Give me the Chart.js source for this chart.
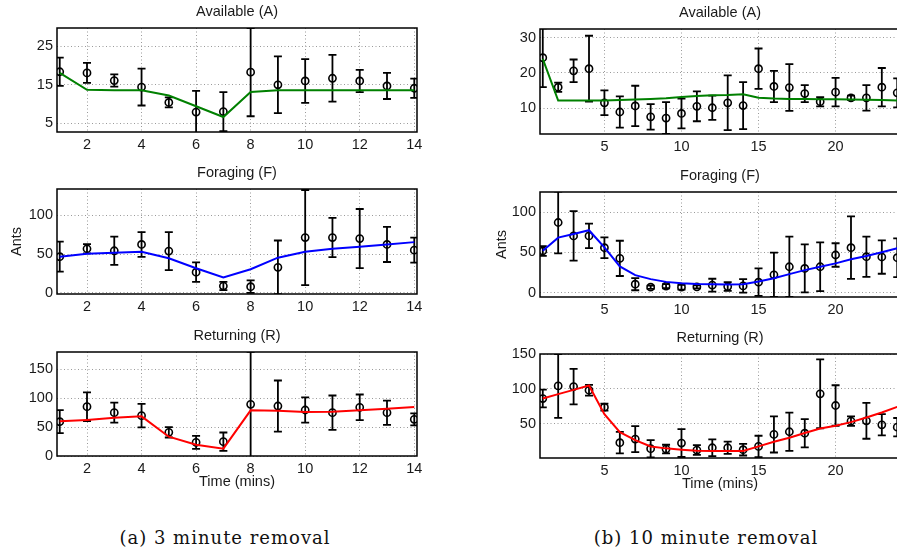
<!DOCTYPE html>
<html>
<head>
<meta charset="utf-8">
<script src="https://cdn.jsdelivr.net/npm/chart.js@4.4.1/dist/chart.umd.min.js"></script>
<style>
  html, body { margin: 0; padding: 0; background: #fff; overflow: hidden; }
  #page { position: relative; width: 897px; height: 554px; overflow: hidden; background: #fff; }
  #page canvas { position: absolute; }
  .caption {
    position: absolute; top: 527px;
    font-family: "DejaVu Serif", "Liberation Serif", serif; font-size: 18px; letter-spacing: 1px;
    color: #111; white-space: nowrap; transform: translateX(-50%);
  }
</style>
</head>
<body>
<div id="page">
  <div class="caption" style="left:225px">(a) 3 minute removal</div>
  <div class="caption" style="left:706px">(b) 10 minute removal</div>
</div>
<script>
// time axis (minutes) and tick labels
const minutes3 = [1, 2, 3, 4, 5, 6, 7, 8, 9, 10, 11, 12, 13, 14];
const minutes10 = [1, 2, 3, 4, 5, 6, 7, 8, 9, 10, 11, 12, 13, 14, 15, 16, 17, 18, 19, 20, 21, 22, 23, 24];
const xTicks3 = [2, 4, 6, 8, 10, 12, 14];
const xTicks10 = [5, 10, 15, 20];

// (a) 3 minute removal
const avail3Mean = [18.4, 18.1, 16.1, 14.4, 10.4, 7.9, 8.0, 18.3, 15.0, 16.0, 16.7, 16.0, 14.7, 14.1];
const avail3Err = [3.7, 2.6, 1.6, 4.8, 1.3, 5.5, 5.1, 11.5, 7.4, 5.7, 6.1, 2.9, 3.4, 2.5];
const avail3Model = [18.1, 13.7, 13.6, 13.6, 12.2, 9.4, 6.6, 13.1, 13.6, 13.6, 13.6, 13.6, 13.6, 13.6];
const forag3Mean = [46.6, 56.8, 54.2, 62.3, 53.8, 26.7, 8.9, 8.1, 33.0, 71.2, 71.2, 69.9, 62.3, 55.0];
const forag3Err = [19.3, 6, 18.2, 15.9, 24.4, 12.5, 5.3, 8, 34.4, 61, 25.2, 37.9, 22.5, 16];
const forag3Model = [46.6, 50.4, 51.7, 53.0, 44.5, 31.8, 19.9, 30.5, 45.3, 53.0, 56.8, 59.3, 62.3, 65.3];
const ret3Mean = [59.4, 85.4, 75.0, 69.8, 41.0, 23.6, 24.8, 89.4, 86.5, 79.6, 75.0, 84.2, 75.0, 63.4];
const ret3Err = [19.9, 24.8, 17.3, 20.4, 9, 11.2, 15.9, 91, 44.2, 21.7, 29.7, 22.2, 21, 10.3];
const ret3Model = [60, 62.5, 66.0, 68.6, 33.4, 19.6, 12.7, 79.0, 78.4, 76.1, 76.7, 79.0, 81.9, 84.8];

// (b) 10 minute removal
const avail10Mean = [24.3, 16.0, 20.6, 21.2, 11.6, 9.0, 10.7, 7.65, 7.3, 8.6, 10.6, 10.2, 11.6, 10.8, 21.2, 16.2, 15.9, 14.2, 11.9, 14.6, 13.0, 13.0, 16.0, 14.4];
const avail10Err = [8.3, 1.3, 3.2, 9.3, 3.5, 4.4, 5.7, 3.6, 4.5, 4.2, 4.2, 3.4, 7.7, 6.6, 5.7, 4.4, 6.6, 2.4, 1.3, 4.0, 0.6, 3.6, 5.4, 4.1];
const avail10Model = [24.0, 12.25, 12.25, 12.25, 12.25, 12.35, 12.5, 12.7, 12.9, 13.2, 13.5, 13.7, 13.8, 14.0, 13.0, 12.8, 12.7, 12.7, 12.6, 12.6, 12.5, 12.45, 12.35, 12.25];
const forag10Mean = [51.7, 87.1, 70.4, 70.4, 55.8, 42.5, 10.4, 6.7, 7.9, 6.7, 7.1, 9.2, 7.5, 8.3, 12.9, 22.1, 32.1, 30.0, 32.1, 46.7, 55.8, 44.6, 44.2, 43.3];
const forag10Err = [6, 38.3, 30.8, 15.2, 12.9, 21.9, 7.5, 2, 2.5, 3, 2, 8, 5.4, 8.4, 17.1, 27.5, 37.5, 29.8, 30.4, 14.6, 38.8, 25, 20.8, 24];
const forag10Model = [52, 68.3, 72.9, 77.5, 56.3, 32.5, 21.7, 16.7, 13.3, 11.7, 10.8, 10.4, 10, 10.4, 13.8, 17.9, 22.9, 27.9, 32.1, 36.3, 41.3, 45.4, 50, 55];
const ret10Mean = [86.2, 104.3, 103.3, 98.1, 73.8, 22.9, 28.1, 14.3, 13.8, 22.4, 12.4, 15.7, 15.7, 12.9, 17.6, 34.8, 38.6, 36.5, 92.9, 76.2, 53.8, 54.3, 48.6, 45.2];
const ret10Err = [12.7, 45.7, 25.5, 7.8, 5, 15.4, 18.6, 12.4, 6.2, 20, 7, 11.9, 8.8, 8.3, 15.3, 25.9, 27.4, 20.2, 49.3, 29, 6.7, 25.7, 15.2, 13.1];
const ret10Model = [86.2, 92.5, 98.6, 104.8, 63.8, 38.1, 26.7, 17.6, 14.8, 12.9, 11.4, 11, 11, 11, 17.6, 24.3, 30, 36.7, 43.3, 47.1, 52.4, 59, 66.2, 74.3];

// y ticks
const availTicks3 = [5, 15, 25];
const availTicks10 = [10, 20, 30];
const foragTicks = [0, 50, 100];
const retTicks3 = [0, 50, 100, 150];
const retTicks10 = [50, 100, 150];

const FONT = '"Liberation Sans", Arial, Helvetica, sans-serif';
const TEXT = '#1a1a1a';

const panels = [
    { left: 0, plotTop: 28, plotBottom: 132, x: minutes3, xMin: 0.9, xMax: 14.1, xTicks: xTicks3,
      yMin: 2.7, yMax: 29.8, yTicks: availTicks3, mean: avail3Mean, err: avail3Err, model: avail3Model,
      color: '#008000', title: 'Available (A)' },
    { left: 0, plotTop: 189, plotBottom: 294, x: minutes3, xMin: 0.9, xMax: 14.1, xTicks: xTicks3,
      yMin: -1.3, yMax: 133.5, yTicks: foragTicks, mean: forag3Mean, err: forag3Err, model: forag3Model,
      color: '#0000ff', title: 'Foraging (F)', ylabel: 'Ants', ylabelOffset: 40 },
    { left: 0, plotTop: 352, plotBottom: 456, x: minutes3, xMin: 0.9, xMax: 14.1, xTicks: xTicks3,
      yMin: 0, yMax: 180, yTicks: retTicks3, mean: ret3Mean, err: ret3Err, model: ret3Model,
      color: '#ff0000', title: 'Returning (R)', xlabel: 'Time (mins)' },
    { left: 483, plotTop: 29, plotBottom: 134, x: minutes10, xMin: 0.82, xMax: 24.18, xTicks: xTicks10,
      yMin: 2.8, yMax: 32.4, yTicks: availTicks10, mean: avail10Mean, err: avail10Err, model: avail10Model,
      color: '#008000', title: 'Available (A)' },
    { left: 483, plotTop: 192, plotBottom: 297, x: minutes10, xMin: 0.82, xMax: 24.18, xTicks: xTicks10,
      yMin: -5.5, yMax: 125, yTicks: foragTicks, mean: forag10Mean, err: forag10Err, model: forag10Model,
      color: '#0000ff', title: 'Foraging (F)', ylabel: 'Ants', ylabelOffset: 38 },
    { left: 483, plotTop: 354, plotBottom: 458, x: minutes10, xMin: 0.82, xMax: 24.18, xTicks: xTicks10,
      yMin: 1, yMax: 150, yTicks: retTicks10, mean: ret10Mean, err: ret10Err, model: ret10Model,
      color: '#ff0000', title: 'Returning (R)', xlabel: 'Time (mins)' },
];

// error bars, axes box and panel texts
const panelPlugin = {
    id: 'panel',
    beforeDatasetsDraw(chart, args, opts) {
        const { ctx, chartArea: a, scales: { x, y } } = chart;
        ctx.save();
        ctx.beginPath();
        ctx.rect(a.left, a.top, a.right - a.left, a.bottom - a.top);
        ctx.clip();
        ctx.strokeStyle = '#000';
        ctx.lineWidth = 1.8;
        opts.x.forEach((t, i) => {
            const px = x.getPixelForValue(t);
            const hi = y.getPixelForValue(opts.mean[i] + opts.err[i]);
            const lo = y.getPixelForValue(opts.mean[i] - opts.err[i]);
            ctx.beginPath();
            ctx.moveTo(px, hi); ctx.lineTo(px, lo);
            ctx.moveTo(px - 4, hi); ctx.lineTo(px + 4, hi);
            ctx.moveTo(px - 4, lo); ctx.lineTo(px + 4, lo);
            ctx.stroke();
        });
        ctx.restore();
    },
    afterDraw(chart, args, opts) {
        const { ctx, chartArea: a } = chart;
        ctx.save();
        ctx.strokeStyle = '#000';
        ctx.lineWidth = 1.5;
        ctx.strokeRect(a.left, a.top, a.right - a.left, a.bottom - a.top);

        ctx.fillStyle = TEXT;
        ctx.font = '14.5px ' + FONT;
        ctx.textAlign = 'center';
        ctx.textBaseline = 'middle';
        const cx = (a.left + a.right) / 2;
        ctx.fillText(opts.title, cx, a.top - 16.5);
        if (opts.xlabel) {
            ctx.fillText(opts.xlabel, cx, a.bottom + 26);
        }
        if (opts.ylabel) {
            ctx.translate(a.left - opts.ylabelOffset, (a.top + a.bottom) / 2);
            ctx.rotate(-Math.PI / 2);
            ctx.fillText(opts.ylabel, 0, 0);
        }
        ctx.restore();
    }
};

const page = document.getElementById('page');

panels.forEach(p => {
    const padTop = 28, axisH = 24, padBottom = p.xlabel ? 22 : 0;
    const canvas = document.createElement('canvas');
    canvas.width = 430;
    canvas.height = padTop + (p.plotBottom - p.plotTop) + axisH + padBottom;
    canvas.style.left = p.left + 'px';
    canvas.style.top = (p.plotTop - padTop) + 'px';
    page.appendChild(canvas);

    const gridOpts = { color: '#9a9a9a', lineWidth: 1, drawTicks: false };
    const tickOpts = { padding: 4, color: TEXT, font: { family: FONT, size: 14.5 } };

    new Chart(canvas, {
        type: 'line',
        data: {
            datasets: [
                {
                    data: p.x.map((t, i) => ({ x: t, y: p.model[i] })),
                    borderColor: p.color,
                    borderWidth: 2,
                    pointRadius: 0,
                    tension: 0,
                    order: 1,
                },
                {
                    data: p.x.map((t, i) => ({ x: t, y: p.mean[i] })),
                    showLine: false,
                    pointRadius: 3.6,
                    pointBorderWidth: 1.6,
                    pointBorderColor: '#000',
                    pointBackgroundColor: 'rgba(0,0,0,0)',
                    order: 2,
                }
            ]
        },
        options: {
            responsive: false,
            animation: false,
            events: [],
            layout: { padding: { top: padTop, right: 13, bottom: padBottom, left: 0 } },
            plugins: {
                legend: { display: false },
                tooltip: { enabled: false },
                panel: { x: p.x, mean: p.mean, err: p.err, title: p.title,
                         xlabel: p.xlabel, ylabel: p.ylabel, ylabelOffset: p.ylabelOffset }
            },
            scales: {
                x: {
                    type: 'linear',
                    min: p.xMin,
                    max: p.xMax,
                    afterBuildTicks: s => { s.ticks = p.xTicks.map(v => ({ value: v })); },
                    afterFit: s => { s.height = axisH; },
                    grid: gridOpts,
                    border: { display: false, dash: [1, 2.5] },
                    ticks: tickOpts,
                },
                y: {
                    type: 'linear',
                    min: p.yMin,
                    max: p.yMax,
                    afterBuildTicks: s => { s.ticks = p.yTicks.map(v => ({ value: v })); },
                    afterFit: s => { s.width = 57; },
                    grid: gridOpts,
                    border: { display: false, dash: [1, 2.5] },
                    ticks: tickOpts,
                }
            }
        },
        plugins: [panelPlugin]
    });
});
</script>
</body>
</html>
